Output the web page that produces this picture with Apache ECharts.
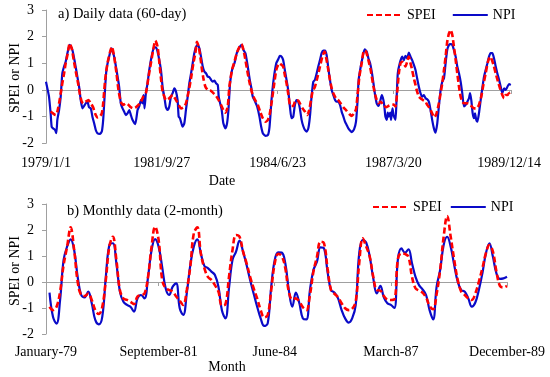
<!DOCTYPE html>
<html><head><meta charset="utf-8">
<script src="https://cdn.jsdelivr.net/npm/echarts@6/dist/echarts.min.js"></script>
<style>html,body{margin:0;padding:0;background:#fff}#c{width:550px;height:377px}</style>
</head><body><div id="c"></div>
<script>
// ---------- Panel a) daily data (60-day); x = days since 1979/1/1 ----------
const dailyTickDays = [0, 1000, 2000, 3000, 4000];
const npiDailyDays = [0,12,26,40,49,61,78,89,98,113,127,141,156,170,185,205,228,251,271,286,300,315,329,343,358,372,387,401,416,430,444,465,482,494,508,522,545,566,589,609,632,646,661,675,690,704,719,733,747,771,791,805,820,834,843,851,863,877,892,912,935,955,973,993,1007,1022,1036,1050,1065,1079,1094,1108,1123,1137,1146,1157,1166,1180,1195,1209,1224,1238,1253,1267,1281,1296,1310,1325,1339,1354,1368,1383,1397,1412,1426,1440,1455,1469,1484,1492,1504,1518,1532,1550,1564,1576,1590,1607,1628,1648,1671,1691,1706,1723,1743,1758,1772,1786,1807,1824,1844,1859,1873,1896,1917,1931,1948,1966,1989,2006,2020,2035,2049,2063,2078,2092,2107,2121,2136,2150,2165,2179,2193,2208,2222,2237,2251,2266,2280,2294,2309,2323,2338,2352,2367,2381,2395,2410,2424,2439,2453,2468,2482,2497,2511,2525,2540,2554,2569,2583,2597,2612,2626,2641,2661,2678,2690,2701,2719,2736,2753,2771,2785,2800,2814,2829,2843,2857,2872,2886,2901,2915,2924,2932,2944,2952,2961,2973,2981,2993,3004,3019,3027,3039,3056,3077,3091,3105,3120,3134,3149,3163,3178,3192,3206,3221,3235,3250,3264,3279,3293,3308,3322,3336,3351,3365,3380,3394,3409,3423,3438,3452,3466,3481,3495,3510,3524,3539,3553,3568,3582,3596,3611,3625,3640,3654,3663,3674,3686,3697,3706,3717,3726,3740,3755,3769,3784,3798,3813,3827,3841,3856,3870,3885,3899,3914,3928,3942,3957,3971,3986,4000,4015];
const npiDailyValues = [0.31,0.06,-0.25,-0.88,-1.38,-1.44,-1.5,-1.62,-1.12,-0.75,-0.25,0.62,0.88,1.06,1.38,1.69,1.5,1.0,0.5,0.12,-0.38,-0.69,-0.6,-0.5,-0.44,-0.65,-0.69,-1.0,-1.25,-1.5,-1.62,-1.65,-1.56,-1.12,-0.12,0.75,1.25,1.56,1.25,0.75,0.12,-0.5,-0.69,-0.81,-0.94,-0.88,-0.75,-0.94,-1.12,-1.28,-0.75,-0.62,-0.38,-0.5,-0.19,-0.69,-0.12,0.25,0.75,1.25,1.62,1.56,1.25,0.75,0.12,-0.25,-0.65,-0.75,-0.62,-0.25,-0.12,0.06,-0.06,-0.38,-1.0,-1.06,-1.19,-1.38,-1.25,-0.75,-0.25,0.25,0.62,1.0,1.38,1.62,1.69,1.56,1.25,0.88,0.69,0.62,0.5,0.48,0.38,0.31,0.35,0.25,0.19,-0.25,-0.5,-0.75,-1.25,-1.44,-1.25,-0.75,0.25,0.75,1.0,1.38,1.6,1.69,1.5,1.38,0.88,0.44,0.12,-0.25,-0.44,-0.62,-1.0,-1.38,-1.62,-1.72,-1.69,-1.38,-0.38,0.38,1.0,1.15,1.28,1.25,1.12,0.75,0.38,0.0,-0.62,-1.06,-1.0,-0.56,-0.38,-0.44,-0.69,-1.12,-1.35,-1.5,-1.56,-1.44,-1.0,-0.25,0.31,0.38,0.62,0.88,1.12,1.38,1.48,1.48,1.31,0.81,0.38,0.0,-0.19,-0.38,-0.44,-0.44,-0.56,-0.81,-1.0,-1.19,-1.31,-1.44,-1.52,-1.58,-1.48,-1.19,-0.5,0.38,0.88,1.25,1.52,1.44,1.19,1.0,0.69,0.25,-0.19,-0.5,-0.6,-0.44,-0.19,-0.38,-0.65,-1.0,-1.12,-0.85,-1.0,-0.85,-1.12,-0.69,-0.97,-1.12,-0.5,0.62,1.0,1.25,1.12,1.28,1.19,1.4,1.25,1.12,0.94,0.75,0.44,0.12,-0.12,-0.25,-0.19,-0.31,-0.35,-0.44,-0.75,-1.12,-1.44,-1.6,-1.25,-0.62,0.0,0.31,0.44,1.0,1.5,1.69,1.72,1.69,1.5,1.25,0.88,0.62,0.31,-0.12,-0.62,-0.56,-0.44,-0.31,-0.12,-0.38,-0.88,-1.06,-0.88,-1.12,-1.19,-0.88,-0.38,0.06,0.5,0.75,1.0,1.25,1.38,1.38,1.19,0.88,0.62,0.38,0.12,-0.12,0.06,0.0,0.12,0.22,0.19];
const speiDailyDays = [40,61,84,98,113,127,141,156,170,185,205,222,242,263,280,294,309,323,343,367,387,407,424,444,465,482,494,511,531,551,569,589,609,626,646,667,690,713,733,753,776,799,820,840,863,886,906,926,944,964,980,993,1007,1022,1036,1065,1094,1123,1146,1166,1186,1209,1232,1253,1273,1290,1304,1319,1333,1348,1362,1377,1397,1426,1446,1469,1492,1512,1532,1550,1570,1584,1607,1628,1648,1671,1688,1706,1723,1743,1763,1786,1807,1830,1850,1873,1896,1917,1931,1948,1966,1989,2006,2020,2035,2049,2063,2078,2092,2107,2121,2136,2150,2165,2179,2193,2217,2237,2257,2274,2289,2303,2323,2343,2367,2387,2407,2424,2439,2453,2468,2482,2505,2525,2545,2569,2597,2620,2641,2661,2678,2690,2707,2727,2747,2765,2785,2805,2829,2852,2872,2892,2915,2938,2958,2981,3004,3019,3033,3048,3062,3077,3091,3105,3120,3134,3149,3163,3178,3192,3206,3221,3235,3258,3279,3293,3316,3336,3356,3374,3394,3409,3423,3438,3452,3466,3481,3495,3510,3524,3539,3553,3568,3582,3596,3611,3634,3654,3674,3697,3720,3740,3760,3778,3798,3818,3836,3850,3870,3885,3905,3922,3942,3957,3971,3986,4000,4015];
const speiDailyValues = [-0.81,-0.88,-0.94,-0.81,-0.5,-0.12,0.25,0.62,1.0,1.31,1.75,1.56,1.06,0.56,0.19,-0.19,-0.44,-0.5,-0.44,-0.38,-0.5,-0.65,-0.88,-1.03,-1.0,-0.88,-0.5,0.38,1.0,1.38,1.62,1.25,0.62,0.0,-0.44,-0.56,-0.5,-0.56,-0.65,-0.69,-0.65,-0.56,-0.44,-0.25,-0.12,0.5,1.0,1.5,1.85,1.62,1.0,0.44,-0.06,-0.25,-0.38,-0.31,-0.19,-0.38,-0.56,-0.69,-0.65,-0.5,-0.06,0.44,1.0,1.38,1.81,1.62,1.25,0.75,0.38,0.12,0.0,-0.03,-0.12,-0.22,-0.38,-0.56,-0.75,-0.85,-0.62,0.12,0.75,1.06,1.38,1.62,1.72,1.5,1.12,0.62,0.19,-0.19,-0.38,-0.56,-0.81,-1.06,-1.19,-1.12,-0.94,-0.5,0.06,0.75,0.94,1.0,0.94,0.88,0.56,0.25,-0.12,-0.56,-0.6,-0.6,-0.44,-0.38,-0.4,-0.5,-0.69,-0.81,-0.94,-0.75,-0.38,-0.06,0.12,0.44,0.88,1.25,1.44,1.12,0.75,0.38,0.06,-0.12,-0.31,-0.38,-0.5,-0.65,-0.78,-0.9,-0.97,-0.88,-0.72,-0.25,0.5,1.0,1.48,1.44,1.12,0.75,0.12,-0.31,-0.5,-0.44,-0.56,-0.65,-0.6,-0.56,-0.55,-0.62,-0.12,0.62,1.0,1.06,1.0,0.88,1.06,1.25,1.0,0.75,0.44,0.19,-0.06,-0.25,-0.31,-0.38,-0.44,-0.56,-0.69,-0.88,-1.03,-0.88,-0.5,-0.12,0.25,0.75,1.25,1.81,2.12,2.25,2.06,1.62,1.12,0.62,0.12,-0.25,-0.44,-0.5,-0.5,-0.52,-0.6,-0.69,-0.69,-0.56,-0.25,0.19,0.62,1.06,1.25,1.15,0.88,0.62,0.31,0.06,-0.19,-0.31,-0.19,-0.19,-0.12,-0.25];

// ---------- Panel b) monthly data (2-month), Jan-79 .. Dec-89 ----------
const monthNames = ['January','February','March','April','May','June','July','August','September','October','November','December'];
const monthYears = [79,80,81,82,83,84,85,86,87,88,89];
const monthTickIndex = [0, 32, 65, 98, 131];
const speiMonthly = [null,-0.95,-1.08,-0.95,-0.37,0.65,1.36,2.1,1.23,0.01,-0.5,-0.54,-0.44,-0.69,-1.08,-1.23,-0.95,0.08,1.36,1.74,0.85,-0.31,-0.63,-0.69,-0.76,-0.85,-0.56,-0.5,-0.44,0.2,1.36,2.13,1.62,0.1,-0.24,-0.31,-0.37,-0.56,-0.72,-0.88,-0.31,0.59,1.87,2.1,1.1,0.53,0.2,0.08,-0.12,-0.37,-0.9,-0.85,0.2,1.23,1.81,1.74,1.17,0.72,0.2,-0.24,-0.63,-1.08,-1.36,-1.27,-0.31,0.72,1.08,1.0,0.53,-0.37,-0.67,-0.63,-0.76,-0.97,-1.08,-0.5,0.4,0.97,1.55,1.49,0.53,-0.31,-0.46,-0.59,-0.82,-1.01,-1.08,-1.03,-0.76,0.72,1.68,1.36,0.97,0.2,-0.31,-0.33,-0.54,-0.67,-0.69,-0.67,0.88,1.1,1.08,0.97,0.2,-0.24,-0.33,-0.41,-0.59,-0.92,-1.05,-0.46,0.46,1.74,2.54,1.74,0.85,0.08,-0.37,-0.5,-0.63,-0.69,-0.44,0.01,0.53,1.1,1.42,1.17,0.4,-0.15,-0.21,-0.15];
const npiMonthly = [null,-0.41,-1.35,-1.6,-0.7,0.85,1.36,1.64,1.23,0.2,-0.5,-0.59,-0.37,-0.82,-1.46,-1.63,-1.33,0.2,1.42,1.49,0.72,-0.37,-0.76,-0.88,-0.95,-1.14,-0.63,-0.5,-0.63,0.2,1.23,1.65,1.36,0.59,-0.24,-0.5,-0.18,-0.05,-1.01,-1.27,-0.44,0.65,1.36,1.64,1.1,0.62,0.53,0.4,0.27,-0.18,-1.1,-1.4,-0.24,0.85,1.17,1.59,1.17,0.65,0.08,-0.44,-0.95,-1.4,-1.69,-1.59,-0.18,0.85,1.14,1.13,0.72,-0.31,-0.95,-0.41,-0.82,-1.4,-1.44,-0.31,0.46,0.78,1.33,1.29,0.4,-0.31,-0.41,-0.63,-1.08,-1.4,-1.56,-1.4,-0.9,1.1,1.62,1.51,0.97,0.14,-0.44,-0.15,-0.59,-0.82,-0.88,-1.0,0.88,1.29,1.13,1.26,0.72,0.2,-0.12,-0.28,-0.5,-1.08,-1.44,-0.18,0.46,1.42,1.74,1.36,0.65,0.01,-0.31,-0.37,-0.63,-0.95,-0.79,-0.31,0.33,1.1,1.49,0.97,0.33,0.12,0.14,0.2];

const yTicks = {min: -2, max: 3, step: 1};

// ---------- build ----------
const monthCategories = [];
monthYears.forEach(y => monthNames.forEach(m => monthCategories.push(m + '-' + y)));
function dayLabel(d) {
  const t = new Date(Date.UTC(1979, 0, 1) + d * 86400000);
  return t.getUTCFullYear() + '/' + (t.getUTCMonth() + 1) + '/' + t.getUTCDate();
}
const FONT = 'Liberation Serif';
const RED = '#FF0000', BLUE = '#0A0AC8', GRAY = '#A0A0A0';
const txt = {fontFamily: FONT, fontSize: 14, color: '#000'};

function yAxisFor(g) {
  return {
    gridIndex: g, type: 'value', min: yTicks.min, max: yTicks.max, interval: yTicks.step,
    axisLine: {show: true, onZero: false, lineStyle: {color: GRAY, width: 1}},
    axisTick: {show: true, length: 4, lineStyle: {color: GRAY}},
    splitLine: {show: false},
    axisLabel: Object.assign({margin: 12}, txt)
  };
}
const pairs = (xs, ys) => xs.map((x, i) => [x, ys[i]]);
const legendBase = {data: ['SPEI', 'NPI'], itemWidth: 35, itemHeight: 14, textStyle: txt,
  itemStyle: {opacity: 0, borderWidth: 0}};

const chart = echarts.init(document.getElementById('c'), null, {renderer: 'canvas'});
chart.setOption({
  animation: false,
  backgroundColor: '#fff',
  grid: [
    {left: 46, top: 10, width: 465, height: 133.3},
    {left: 46, top: 204, width: 461, height: 130}
  ],
  xAxis: [
    {gridIndex: 0, type: 'value', min: 0, max: 4017, interval: 1000, position: 'bottom',
     axisLine: {show: false, onZero: false}, axisTick: {show: false}, splitLine: {show: false},
     axisLabel: Object.assign({margin: 13, formatter: v => dailyTickDays.includes(v) ? dayLabel(v) : ''}, txt)},
    {gridIndex: 0, type: 'value', min: 0, max: 4017, interval: 1000, position: 'top',
     axisLine: {show: true, onZero: true, lineStyle: {color: GRAY, width: 1}},
     axisTick: {show: true, inside: true, length: 4, lineStyle: {color: GRAY}},
     axisLabel: {show: false}, splitLine: {show: false}},
    {gridIndex: 1, type: 'category', data: monthCategories, boundaryGap: false, position: 'bottom',
     axisLine: {show: false, onZero: false}, axisTick: {show: false}, splitLine: {show: false},
     axisLabel: Object.assign({margin: 11, interval: i => monthTickIndex.includes(i)}, txt)},
    {gridIndex: 1, type: 'category', data: monthCategories, boundaryGap: false, position: 'top',
     axisLine: {show: true, onZero: true, lineStyle: {color: GRAY, width: 1}},
     axisTick: {show: true, inside: true, length: 4, interval: i => monthTickIndex.includes(i), lineStyle: {color: GRAY}},
     axisLabel: {show: false}, splitLine: {show: false}}
  ],
  yAxis: [yAxisFor(0), yAxisFor(1)],
  legend: [
    Object.assign({left: 361, top: 3, itemGap: 16}, legendBase),
    Object.assign({left: 367, top: 195, itemGap: 8}, legendBase)
  ],
  series: [
    {name: 'SPEI', type: 'line', xAxisIndex: 0, yAxisIndex: 0, z: 3, symbol: 'none', smooth: 0.2,
     data: pairs(speiDailyDays, speiDailyValues), lineStyle: {color: RED, width: 2.6, type: [6, 3]}, itemStyle: {color: RED}},
    {name: 'NPI', type: 'line', xAxisIndex: 0, yAxisIndex: 0, z: 2, symbol: 'none', smooth: 0.2,
     data: pairs(npiDailyDays, npiDailyValues), lineStyle: {color: BLUE, width: 2.2}, itemStyle: {color: BLUE}},
    {name: 'SPEI', type: 'line', xAxisIndex: 2, yAxisIndex: 1, z: 3, symbol: 'none', smooth: 0.4,
     data: speiMonthly, lineStyle: {color: RED, width: 2.6, type: [6, 3]}, itemStyle: {color: RED}},
    {name: 'NPI', type: 'line', xAxisIndex: 2, yAxisIndex: 1, z: 2, symbol: 'none', smooth: 0.4,
     data: npiMonthly, lineStyle: {color: BLUE, width: 2.2}, itemStyle: {color: BLUE}}
  ],
  graphic: [
    {type: 'text', x: 58, y: 14, style: {text: 'a) Daily data (60-day)', font: '14.5px "Liberation Serif"', fill: '#000', align: 'left', verticalAlign: 'middle'}},
    {type: 'text', x: 67, y: 211, style: {text: 'b) Monthly data (2-month)', font: '14.5px "Liberation Serif"', fill: '#000', align: 'left', verticalAlign: 'middle'}},
    {type: 'text', x: 222, y: 181, style: {text: 'Date', font: '14px "Liberation Serif"', fill: '#000', align: 'center', verticalAlign: 'middle'}},
    {type: 'text', x: 227, y: 367, style: {text: 'Month', font: '14px "Liberation Serif"', fill: '#000', align: 'center', verticalAlign: 'middle'}},
    {type: 'text', x: 15, y: 78, rotation: Math.PI / 2, style: {text: 'SPEI or NPI', font: '14px "Liberation Serif"', fill: '#000', align: 'center', verticalAlign: 'middle'}},
    {type: 'text', x: 15, y: 271, rotation: Math.PI / 2, style: {text: 'SPEI or NPI', font: '14px "Liberation Serif"', fill: '#000', align: 'center', verticalAlign: 'middle'}}
  ]
});
</script></body></html>
